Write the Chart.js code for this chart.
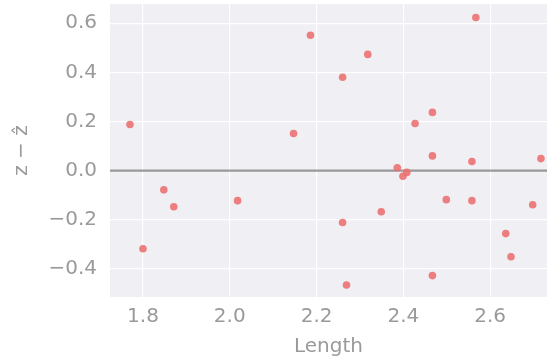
<!DOCTYPE html>
<html>
<head>
<meta charset="utf-8">
<script src="https://cdn.jsdelivr.net/npm/chart.js@4.4.0/dist/chart.umd.min.js"></script>
<style>
  html, body { margin: 0; padding: 0; background: #fff; }
  #wrap { width: 551px; height: 359px; }
</style>
</head>
<body>
<div id="wrap"><canvas id="resid"></canvas></div>
<script>
// residuals vs length
var lengths = [1.770, 1.800, 1.848, 1.871, 2.018, 2.147, 2.186, 2.260, 2.318, 2.260,
               2.269, 2.349, 2.386, 2.399, 2.408, 2.427, 2.467, 2.467, 2.467, 2.499,
               2.558, 2.558, 2.567, 2.636, 2.648, 2.698, 2.717];
var residuals = [0.188, -0.318, -0.078, -0.147, -0.122, 0.151, 0.551, 0.380, 0.473, -0.211,
                 -0.465, -0.167, 0.012, -0.023, -0.007, 0.192, 0.237, 0.060, -0.427, -0.118,
                 0.037, -0.122, 0.623, -0.256, -0.350, -0.139, 0.049];
var xTicks = [1.8, 2.0, 2.2, 2.4, 2.6];
var yTicks = [-0.4, -0.2, 0.0, 0.2, 0.4, 0.6];
var refLine = 0;

var pts = lengths.map(function (x, i) { return { x: x, y: residuals[i] }; });

var grey = "#9a9a9a";
var font = { family: "'DejaVu Sans', sans-serif", size: 20 };

// grey plot background + horizontal line at zero
var bgAndZero = {
  id: "bgAndZero",
  beforeDraw: function (chart) {
    var a = chart.chartArea, ctx = chart.ctx;
    ctx.save();
    ctx.fillStyle = "#efeff4";
    ctx.fillRect(a.left, a.top, a.right - a.left, a.bottom - a.top);
    ctx.restore();
  },
  beforeDatasetsDraw: function (chart) {
    var a = chart.chartArea, ctx = chart.ctx;
    var y = chart.scales.y.getPixelForValue(refLine);
    ctx.save();
    ctx.strokeStyle = "#999999";
    ctx.lineWidth = 2.4;
    ctx.beginPath();
    ctx.moveTo(a.left, y);
    ctx.lineTo(a.right, y);
    ctx.stroke();
    ctx.restore();
  }
};

new Chart(document.getElementById("resid"), {
  type: "scatter",
  data: {
    datasets: [{
      data: pts,
      backgroundColor: "rgba(236,110,110,0.88)",
      borderWidth: 0,
      pointRadius: 3.8
    }]
  },
  options: {
    responsive: true,
    maintainAspectRatio: false,
    animation: false,
    layout: { padding: { top: 4, right: 1, left: 0, bottom: 0 } },
    plugins: { legend: { display: false }, tooltip: { enabled: false } },
    scales: {
      x: {
        type: "linear",
        min: 1.724,
        max: 2.731,
        afterBuildTicks: function (s) { s.ticks = xTicks.map(function (v) { return { value: v }; }); },
        afterFit: function (s) { s.height = 62; s.paddingLeft = 0; s.paddingRight = 0; },
        grid: { color: "#ffffff", lineWidth: 1.2, drawTicks: false },
        border: { display: false },
        ticks: { color: grey, font: font, padding: 8, maxRotation: 0,
                 callback: function (v) { return v.toFixed(1); } },
        title: { display: true, text: "Length", color: grey, font: font, padding: 0 }
      },
      y: {
        min: -0.514,
        max: 0.678,
        afterBuildTicks: function (s) { s.ticks = yTicks.map(function (v) { return { value: v }; }); },
        afterFit: function (s) { s.width = 110; s.paddingTop = 0; s.paddingBottom = 0; },
        grid: { color: "#ffffff", lineWidth: 1.2, drawTicks: false },
        border: { display: false },
        ticks: { color: grey, font: font, padding: 13,
                 callback: function (v) { return (v < 0 ? "\u2212" + Math.abs(v).toFixed(1) : v.toFixed(1)); } },
        title: { display: true, text: "z \u2212 \u1E91", color: grey, font: font, padding: { top: 10, bottom: 0 } }
      }
    }
  },
  plugins: [bgAndZero]
});
</script>
</body>
</html>
